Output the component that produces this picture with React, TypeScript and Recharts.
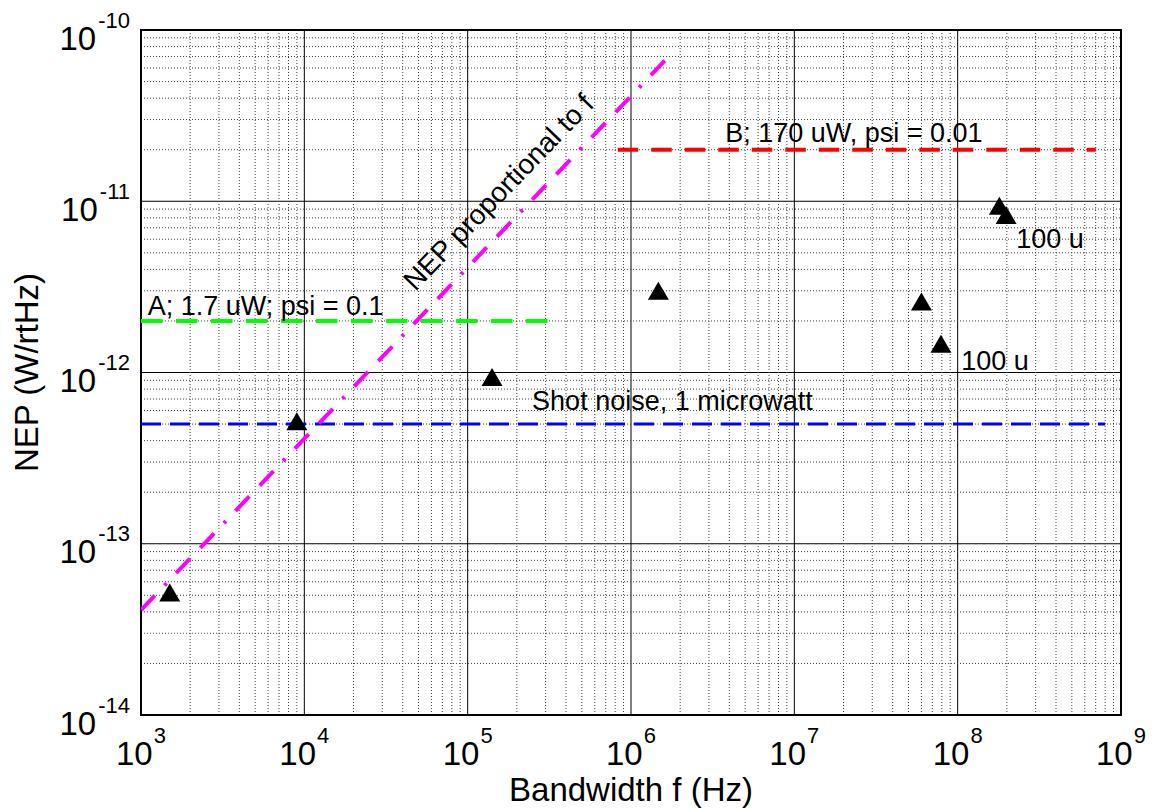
import React from 'react';
import {
  ComposedChart,
  XAxis,
  YAxis,
  CartesianGrid,
  Line,
  Scatter,
  ReferenceLine,
  ReferenceArea,
} from 'recharts';

// ---------- axes ----------
const xTicks = [1e3, 1e4, 1e5, 1e6, 1e7, 1e8, 1e9];
const yTicks = [1e-14, 1e-13, 1e-12, 1e-11, 1e-10];
const minorSteps = [2, 3, 4, 5, 6, 7, 8, 9];
const xMinor = xTicks.slice(0, -1).flatMap((d) => minorSteps.map((m) => m * d));
const yMinor = yTicks.slice(0, -1).flatMap((d) => minorSteps.map((m) => m * d));

// ---------- data ----------
const measuredPoints = [
  { x: 1.5e3, y: 5.2e-14 },
  { x: 9.0e3, y: 5.2e-13 },
  { x: 1.41e5, y: 9.4e-13 },
  { x: 1.47e6, y: 3.0e-12 },
  { x: 6.0e7, y: 2.6e-12 },
  { x: 7.9e7, y: 1.47e-12 },
  { x: 1.8e8, y: 9.4e-12 },
  { x: 1.98e8, y: 8.3e-12 },
];

const shotNoiseLine = [
  { x: 1e3, y: 5e-13 },
  { x: 8e8, y: 5e-13 },
];
const caseALine = [
  { x: 1e3, y: 2e-12 },
  { x: 3.3e5, y: 2e-12 },
];
const caseBLine = [
  { x: 8.3e5, y: 2e-11 },
  { x: 7e8, y: 2e-11 },
];
const proportionalLine = [
  { x: 1e3, y: 4.1e-14 },
  { x: 1.8e6, y: 7.4e-11 },
];

const annotations = [
  { x: 1.1e3, y: 2.17e-12, text: 'A; 1.7 uW; psi = 0.1', angle: 0, size: 27 },
  { x: 3.77e6, y: 2.23e-11, text: 'B; 170 uW, psi = 0.01', angle: 0, size: 27 },
  { x: 2.48e5, y: 6.0e-13, text: 'Shot noise, 1 microwatt', angle: 0, size: 27 },
  { x: 2.28e8, y: 5.36e-12, text: '100 u', angle: 0, size: 27 },
  { x: 1.05e8, y: 1.03e-12, text: '100 u', angle: 0, size: 27 },
  { x: 4.77e4, y: 2.95e-12, text: 'NEP proportional to f', angle: -46, size: 28 },
];

const FONT = '"Liberation Sans", Arial, Helvetica, sans-serif';

const XTick = (props: any) => {
  const { x, y, payload } = props;
  const e = Math.round(Math.log10(payload.value));
  return (
    <text x={x} y={y + 50} textAnchor="middle" fontFamily={FONT} fill="#000">
      <tspan fontSize={33}>10</tspan>
      <tspan fontSize={22} dx={1} dy={-22}>
        {String(e)}
      </tspan>
    </text>
  );
};

const YTick = (props: any) => {
  const { x, y, payload } = props;
  const e = Math.round(Math.log10(payload.value));
  return (
    <text x={x - 11} y={y + 19.5} textAnchor="end" fontFamily={FONT} fill="#000">
      <tspan fontSize={33}>10</tspan>
      <tspan fontSize={22} dx={2} dy={-22}>
        {String(e)}
      </tspan>
    </text>
  );
};

const XLabel = (props: any) => {
  const vb = props.viewBox || { x: 141, y: 715, width: 980, height: 93 };
  return (
    <text
      x={vb.x + vb.width / 2}
      y={vb.y + 86}
      textAnchor="middle"
      fontFamily={FONT}
      fontSize={33}
      fill="#000"
    >
      Bandwidth f (Hz)
    </text>
  );
};

const YLabel = (props: any) => {
  const vb = props.viewBox || { x: 0, y: 30, width: 141, height: 685 };
  const cx = vb.x + 38;
  const cy = vb.y + vb.height / 2;
  return (
    <text
      x={cx}
      y={cy}
      transform={`rotate(-90 ${cx} ${cy})`}
      textAnchor="middle"
      fontFamily={FONT}
      fontSize={33}
      fill="#000"
    >
      NEP (W/rtHz)
    </text>
  );
};

const Triangle = (props: any) => {
  const { cx, cy } = props;
  if (cx == null || cy == null) return <g />;
  return (
    <polygon
      points={`${cx},${cy - 9} ${cx + 10.5},${cy + 9} ${cx - 10.5},${cy + 9}`}
      fill="#000"
    />
  );
};

const AnnotationText = (props: any) => {
  const { cx, cy, payload } = props;
  if (cx == null || cy == null) return <g />;
  return (
    <text
      x={cx}
      y={cy}
      transform={payload.angle ? `rotate(${payload.angle} ${cx} ${cy})` : undefined}
      fontFamily={FONT}
      fontSize={payload.size}
      fill="#000"
    >
      {payload.text}
    </text>
  );
};

export default function App() {
  return (
    <div style={{ position: 'absolute', left: 0, top: 0, width: 1153, height: 808, background: '#fff' }}>
      <ComposedChart
        width={1153}
        height={808}
        margin={{ top: 30, right: 32, bottom: 0, left: 0 }}
      >
        <XAxis
          dataKey="x"
          type="number"
          scale="log"
          domain={[1e3, 1e9]}
          allowDataOverflow
          ticks={xTicks}
          interval={0}
          tick={<XTick />}
          tickLine={false}
          tickSize={0}
          tickMargin={0}
          axisLine={false}
          height={93}
          label={XLabel}
        />
        <YAxis
          dataKey="y"
          type="number"
          scale="log"
          domain={[1e-14, 1e-10]}
          allowDataOverflow
          ticks={yTicks}
          interval={0}
          tick={<YTick />}
          tickLine={false}
          tickSize={0}
          tickMargin={0}
          axisLine={false}
          width={141}
          label={YLabel}
        />
        {xMinor.map((v) => (
          <ReferenceLine
            key={`xm${v}`}
            x={v}
            stroke="#444"
            strokeWidth={1}
            strokeDasharray="1 2"
            zIndex={-50}
          />
        ))}
        {yMinor.map((v) => (
          <ReferenceLine
            key={`ym${v}`}
            y={v}
            stroke="#444"
            strokeWidth={1}
            strokeDasharray="1 2"
            zIndex={-50}
          />
        ))}
        <CartesianGrid stroke="#000" strokeWidth={1} strokeDasharray="0" />
        <Line
          data={shotNoiseLine}
          dataKey="y"
          type="linear"
          stroke="#0000ff"
          strokeWidth={3}
          strokeDasharray="20 9"
          dot={false}
          activeDot={false}
          isAnimationActive={false}
        />
        <Line
          data={caseALine}
          dataKey="y"
          type="linear"
          stroke="#00ff00"
          strokeWidth={4}
          strokeDasharray="21.5 13.5"
          dot={false}
          activeDot={false}
          isAnimationActive={false}
        />
        <Line
          data={caseBLine}
          dataKey="y"
          type="linear"
          stroke="#ff0000"
          strokeWidth={4}
          strokeDasharray="20.5 13"
          dot={false}
          activeDot={false}
          isAnimationActive={false}
        />
        <Line
          data={proportionalLine}
          dataKey="y"
          type="linear"
          stroke="#ff00ff"
          strokeWidth={4}
          strokeDasharray="20 14 3 14 20 15"
          dot={false}
          activeDot={false}
          isAnimationActive={false}
        />
        <Scatter data={measuredPoints} shape={<Triangle />} isAnimationActive={false} />
        <Scatter data={annotations} shape={<AnnotationText />} isAnimationActive={false} />
        <ReferenceArea
          x1={1e3}
          x2={1e9}
          y1={1e-14}
          y2={1e-10}
          fill="none"
          fillOpacity={0}
          stroke="#000"
          strokeWidth={2}
          ifOverflow="visible"
        />
      </ComposedChart>
    </div>
  );
}
